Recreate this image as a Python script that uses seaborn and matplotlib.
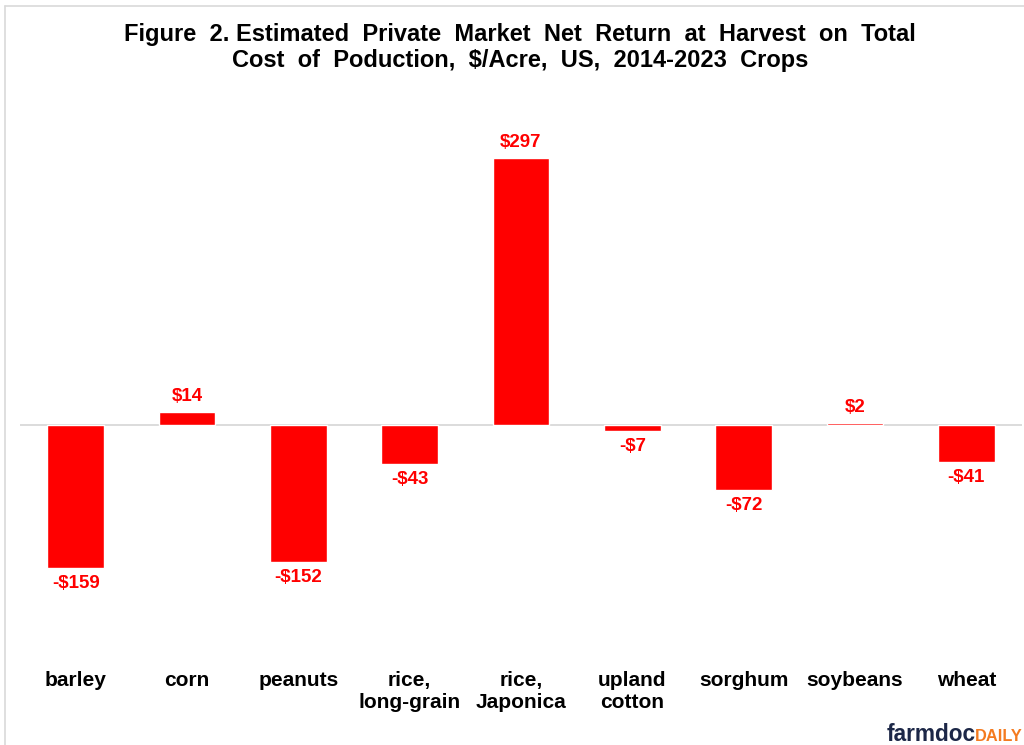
import numpy as np
import pandas as pd
import matplotlib.pyplot as plt
import seaborn as sns
from matplotlib.lines import Line2D

# Data
crops = ['barley', 'corn', 'peanuts', 'rice,\nlong-grain', 'rice,\nJaponica',
         'upland\ncotton', 'sorghum', 'soybeans', 'wheat']
net_return = [-159, 14, -152, -43, 297, -7, -72, 2, -41]

df = pd.DataFrame({'crop': crops, 'value': net_return})

sns.set_theme(style='white')
plt.rcParams['font.family'] = ['Liberation Sans', 'DejaVu Sans']

W, H = 1024, 745
fig = plt.figure(figsize=(W / 100, H / 100), dpi=100)
ax = fig.add_axes([20 / W, 1 - 650 / H, 1002 / W, 540 / H])

sns.barplot(data=df, x='crop', y='value', color='#ff0000', saturation=1,
            width=0.51, ax=ax)
ax.set_ylim(-250, 350)
ax.set_xlim(-0.5, len(crops) - 0.5)
ax.axhline(0, color='#d9d9d9', linewidth=1.3, zorder=0)

# value labels
labels = [f'${v}' if v >= 0 else f'-${abs(v)}' for v in net_return]
ax.bar_label(ax.containers[0], labels=labels, padding=5, color='#ff0000',
             fontsize=13.5, fontweight='bold')

ax.set_xlabel('')
ax.set_ylabel('')
ax.set_yticks([])
ax.tick_params(axis='x', length=0, pad=15, labelsize=15)
for t in ax.get_xticklabels():
    t.set_fontweight('bold')
    t.set_color('black')
for s in ax.spines.values():
    s.set_visible(False)

fig.text(0.508, 1 - 22.5 / H,
         'Figure  2. Estimated  Private  Market  Net  Return  at  Harvest  on  Total\n'
         'Cost  of  Poduction,  $/Acre,  US,  2014-2023  Crops',
         ha='center', va='top', fontsize=17, fontweight='bold',
         linespacing=1.2, color='black')

# light frame like the screenshot
fig.add_artist(Line2D([5 / W, 5 / W], [0, 1 - 6 / H], color='#d9d9d9', lw=1.2))
fig.add_artist(Line2D([5 / W, 1], [1 - 6 / H, 1 - 6 / H], color='#d9d9d9', lw=1.2))

# farmdoc daily logo text
fig.text(887 / W, 1 - 741 / H, 'farmdoc', ha='left', va='baseline',
         fontsize=16.3, fontweight='bold', color='#1c2747')
fig.text(975 / W, 1 - 741 / H, 'DAILY', ha='left', va='baseline',
         fontsize=11.8, fontweight='bold', color='#f47b20')

fig.savefig('out.png', dpi=100)
